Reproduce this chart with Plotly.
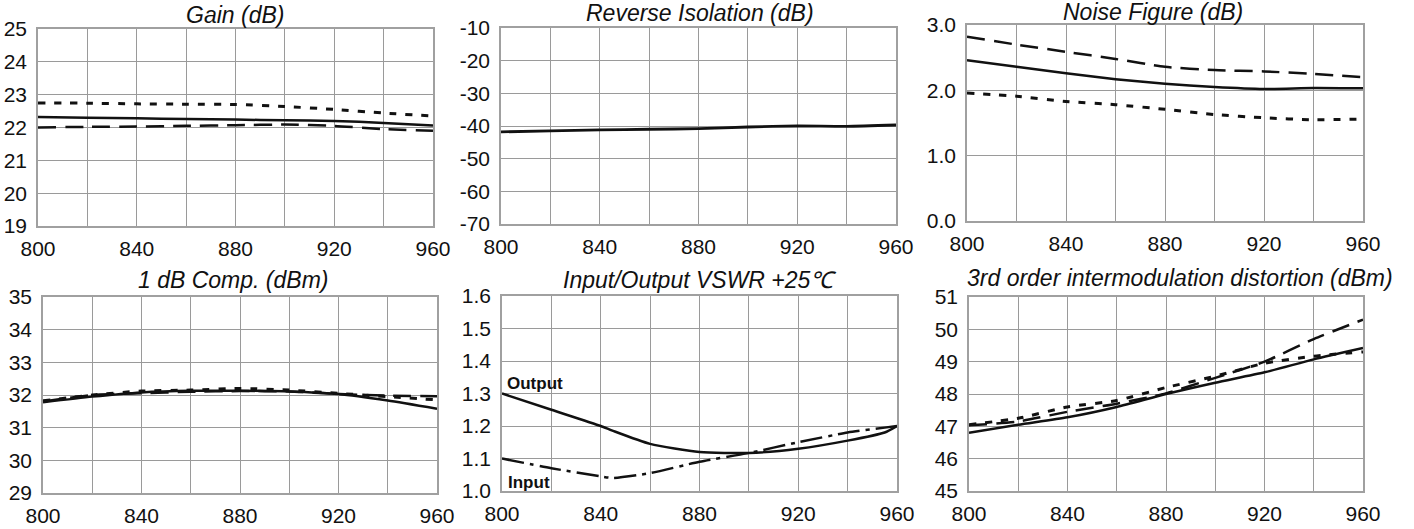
import plotly.graph_objects as go

# ---------------- data ----------------
freq = [800, 820, 840, 860, 880, 900, 920, 940, 960]

gain_solid = [22.32, 22.30, 22.28, 22.26, 22.24, 22.22, 22.20, 22.14, 22.06]
gain_dash = [22.00, 22.02, 22.03, 22.05, 22.07, 22.09, 22.05, 21.95, 21.90]
gain_dot = [22.75, 22.74, 22.72, 22.71, 22.70, 22.64, 22.55, 22.44, 22.35]

iso_solid = [-41.8, -41.5, -41.2, -41.0, -40.8, -40.3, -40.0, -40.1, -39.7]

nf_solid = [2.46, 2.36, 2.26, 2.17, 2.10, 2.05, 2.02, 2.035, 2.03]
nf_dash = [2.82, 2.70, 2.59, 2.48, 2.36, 2.31, 2.29, 2.25, 2.20]
nf_dot = [1.96, 1.91, 1.83, 1.78, 1.71, 1.63, 1.58, 1.55, 1.56]

p1db_solid = [31.78, 31.95, 32.08, 32.13, 32.13, 32.11, 32.03, 31.83, 31.58]
p1db_dash = [31.80, 32.00, 32.05, 32.10, 32.12, 32.11, 32.03, 31.98, 31.96]
p1db_dot = [31.82, 32.00, 32.12, 32.15, 32.20, 32.15, 32.05, 31.95, 31.85]

vswr_freq = [800, 820, 840, 845, 860, 880, 900, 920, 940, 955, 960]
vswr_output = [1.30, 1.25, 1.20, 1.185, 1.145, 1.12, 1.117, 1.13, 1.155, 1.18, 1.20]
vswr_input = [1.10, 1.07, 1.045, 1.04, 1.055, 1.09, 1.117, 1.15, 1.18, 1.195, 1.20]

imd_solid = [46.80, 47.05, 47.28, 47.60, 48.00, 48.35, 48.67, 49.07, 49.42]
imd_dash = [47.03, 47.15, 47.45, 47.70, 48.02, 48.50, 49.00, 49.70, 50.30]
imd_dot = [47.05, 47.25, 47.60, 47.80, 48.20, 48.55, 48.95, 49.17, 49.30]

titles = ["Gain (dB)", "Reverse Isolation (dB)", "Noise Figure (dB)",
          "1 dB Comp. (dBm)", "Input/Output VSWR +25\u2103",
          "3rd order intermodulation distortion (dBm)"]

x_ticks = [800, 840, 880, 920, 960]
gain_ticks = [19, 20, 21, 22, 23, 24, 25]
iso_ticks = [-70, -60, -50, -40, -30, -20, -10]
nf_ticks = [0.0, 1.0, 2.0, 3.0]
p1db_ticks = [29, 30, 31, 32, 33, 34, 35]
vswr_ticks = [1.0, 1.1, 1.2, 1.3, 1.4, 1.5, 1.6]
imd_ticks = [45, 46, 47, 48, 49, 50, 51]

# ---------------- layout geometry (pixels) ----------------
W, H = 1414, 529
# (left, right, top, bottom) of each plot area
boxes = [
    (38, 433, 29, 226),
    (501, 896, 28, 224),
    (967, 1363, 25, 221),
    (43, 437, 297, 493),
    (502, 897, 296, 491),
    (969, 1363, 297, 491),
]
title_pos = [(235, 15), (700, 13), (1153, 12), (233, 280), (700, 280), (1180, 278)]

FONT = "Liberation Sans, Arial, sans-serif"
GRID = "#9a9a9a"
BLACK = "#111111"
DOT = "7px,9px"
LDASH = "18px,9px"
DASHDOT = "22px,6px,4px,6px"

fig = go.Figure()


def add(idx, x, y, dash, width=2.5):
    s = "" if idx == 1 else str(idx)
    fig.add_trace(go.Scatter(x=x, y=y, mode="lines", xaxis="x" + s, yaxis="y" + s,
                             line=dict(color=BLACK, width=width, dash=dash, shape="spline", smoothing=0.6),
                             showlegend=False, hoverinfo="skip"))


add(1, freq, gain_dot, DOT, 3)
add(1, freq, gain_solid, "solid")
add(1, freq, gain_dash, LDASH)

add(2, freq, iso_solid, "solid", 2.8)

add(3, freq, nf_dash, LDASH)
add(3, freq, nf_solid, "solid")
add(3, freq, nf_dot, DOT, 3)

add(4, freq, p1db_dot, DOT, 3)
add(4, freq, p1db_dash, LDASH)
add(4, freq, p1db_solid, "solid")

add(5, vswr_freq, vswr_output, "solid")
add(5, vswr_freq, vswr_input, DASHDOT)

add(6, freq, imd_dash, LDASH)
add(6, freq, imd_dot, DOT, 3)
add(6, freq, imd_solid, "solid")

yinfo = [
    (gain_ticks, [str(v) for v in gain_ticks]),
    (iso_ticks, [str(v) for v in iso_ticks]),
    (nf_ticks, ["%.1f" % v for v in nf_ticks]),
    (p1db_ticks, [str(v) for v in p1db_ticks]),
    (vswr_ticks, ["%.1f" % v for v in vswr_ticks]),
    (imd_ticks, [str(v) for v in imd_ticks]),
]

layout = dict(
    width=W, height=H,
    margin=dict(l=0, r=0, t=0, b=0, autoexpand=False),
    paper_bgcolor="white", plot_bgcolor="white",
    showlegend=False,
    font=dict(family=FONT, color="#111111"),
)

for i, (l, r, t, b) in enumerate(boxes):
    n = i + 1
    s = "" if n == 1 else str(n)
    tv, tt = yinfo[i]
    layout["xaxis" + s] = dict(
        domain=[l / W, r / W], anchor="y" + s, range=[800, 960],
        tickvals=x_ticks, ticktext=[str(v) for v in x_ticks],
        showgrid=True, gridcolor=GRID, gridwidth=1,
        minor=dict(tick0=800, dtick=20, showgrid=True, gridcolor=GRID, gridwidth=1),
        showline=True, mirror=True, linecolor="#a0a0a0", linewidth=1.5,
        ticks="", ticklabelstandoff=3, zeroline=False, automargin=False,
        tickfont=dict(family=FONT, size=21, color="#111111"),
    )
    layout["yaxis" + s] = dict(
        domain=[1 - b / H, 1 - t / H], anchor="x" + s,
        range=[tv[0], tv[-1]], tickvals=tv, ticktext=tt,
        showgrid=True, gridcolor=GRID, gridwidth=1,
        showline=True, mirror=True, linecolor="#a0a0a0", linewidth=1.5,
        ticks="", ticklabelstandoff=5, zeroline=False, automargin=False,
        tickfont=dict(family=FONT, size=21, color="#111111"),
    )

annotations = []
for (tx, ty), txt in zip(title_pos, titles):
    annotations.append(dict(x=tx / W, y=1 - ty / H, xref="paper", yref="paper",
                            text="<i>" + txt + "</i>", showarrow=False,
                            xanchor="center", yanchor="middle",
                            font=dict(family=FONT, size=23, color="#111111")))
annotations.append(dict(x=800, y=1.33, xref="x5", yref="y5", text="<b>Output</b>",
                        showarrow=False, xanchor="left", yanchor="middle", xshift=3,
                        font=dict(family=FONT, size=17, color="#111111")))
annotations.append(dict(x=800, y=1.025, xref="x5", yref="y5", text="<b>Input</b>",
                        showarrow=False, xanchor="left", yanchor="middle", xshift=4,
                        font=dict(family=FONT, size=17, color="#111111")))
layout["annotations"] = annotations

fig.update_layout(**layout)
fig.write_html("out.html", config={"displayModeBar": False},
               post_script="document.body.style.margin='0';document.body.style.overflow='hidden';")
